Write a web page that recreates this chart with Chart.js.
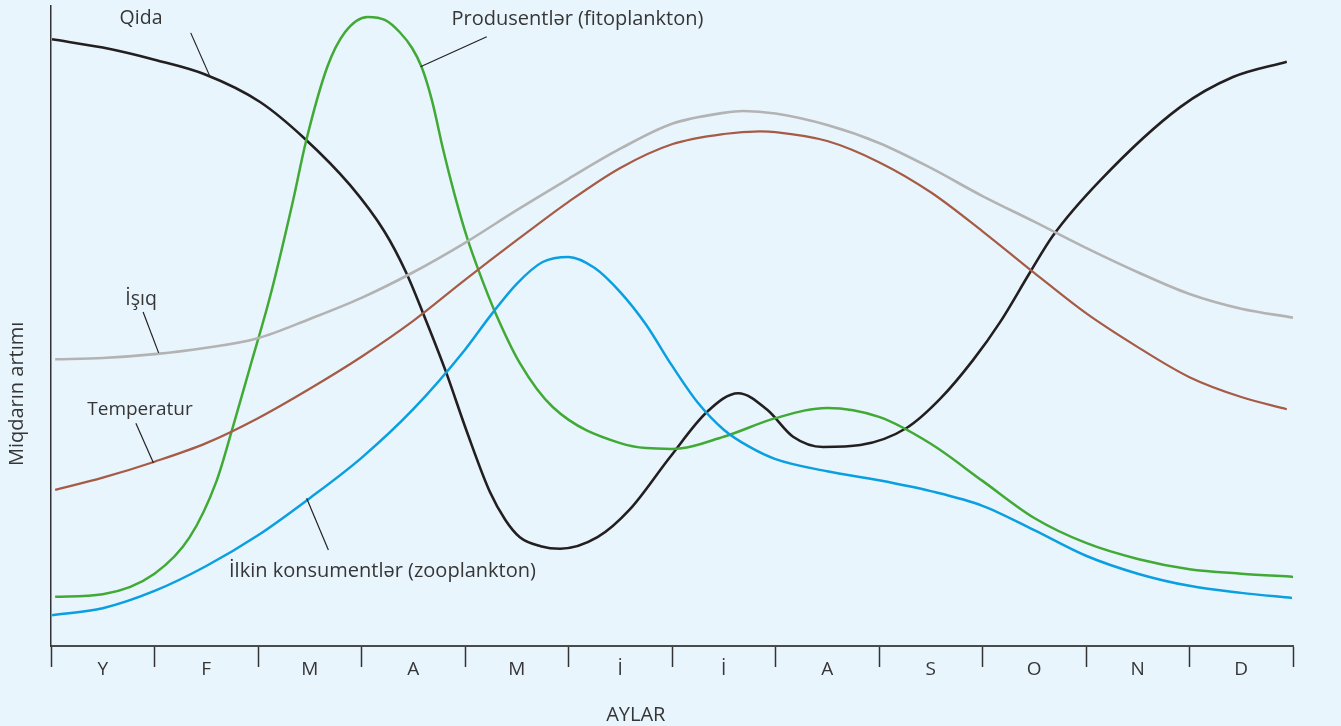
<!DOCTYPE html>
<html>
<head>
<meta charset="utf-8">
<script src="https://cdn.jsdelivr.net/npm/chart.js@4"></script>
<style>
  html, body { margin: 0; padding: 0; background: #e9f5fd; }
  #wrap { width: 1341px; height: 726px; position: relative; }
</style>
</head>
<body>
<div id="wrap"><canvas id="myChart"></canvas></div>
<script>
// months (x = 0..12, each month one unit)
var months = ['Y', 'F', 'M', 'A', 'M', 'İ', 'İ', 'A', 'S', 'O', 'N', 'D'];

// Qida (food) - black
var qida_x = [0.01, 0.50, 1.0, 1.49, 2.02, 2.45, 2.89, 3.22, 3.43, 3.59, 3.81, 4.02, 4.24, 4.39, 4.53, 4.73, 4.92, 5.28, 5.59, 5.98, 6.34, 6.64, 6.92, 7.17, 7.46, 7.82, 8.27, 8.59, 8.91, 9.17, 9.46, 9.68, 10.14, 10.91, 11.42, 11.94];
var qida_y = [94.8, 93.5, 91.6, 89.3, 85.0, 79.3, 72.0, 64.8, 58.4, 52.2, 43.1, 33.4, 24.1, 19.7, 17.0, 15.6, 15.2, 17.0, 21.3, 29.5, 36.6, 39.5, 36.9, 32.7, 31.1, 31.4, 34.1, 38.6, 44.7, 50.6, 58.4, 64.1, 72.8, 84.2, 88.9, 91.3];

// Produsentler (fitoplankton) - green
var prod_x = [0.04, 0.50, 1.0, 1.34, 1.60, 1.75, 1.92, 2.12, 2.34, 2.46, 2.67, 2.84, 3.06, 3.23, 3.37, 3.49, 3.58, 3.68, 3.79, 3.90, 4.02, 4.14, 4.29, 4.53, 4.85, 5.5, 6.0, 6.5, 7.0, 7.5, 8.0, 8.5, 9.0, 9.5, 10.0, 10.5, 11.0, 11.5, 12.0];
var prod_y = [7.7, 8.1, 11.3, 17.0, 25.8, 33.8, 43.4, 54.8, 69.7, 78.6, 90.5, 95.9, 98.3, 97.8, 95.9, 93.4, 90.5, 85.3, 77.5, 70.5, 63.8, 58.3, 52.2, 44.2, 37.3, 31.7, 30.8, 32.7, 35.6, 37.2, 35.8, 31.6, 25.8, 20.0, 16.1, 13.6, 12.0, 11.3, 10.8];

// Ilkin konsumentler (zooplankton) - blue
var zoo_x = [0.01, 0.5, 1.0, 1.5, 2.0, 2.5, 3.0, 3.5, 4.0, 4.25, 4.5, 4.75, 5.0, 5.25, 5.5, 5.75, 6.0, 6.25, 6.5, 6.75, 7.0, 7.5, 8.0, 8.5, 9.0, 9.5, 10.0, 10.5, 11.0, 11.5, 11.99];
var zoo_y = [4.8, 5.9, 8.6, 12.5, 17.3, 23.1, 29.4, 37.0, 46.3, 51.7, 56.6, 60.0, 60.8, 59.1, 55.3, 50.2, 43.8, 38.0, 33.8, 31.1, 29.2, 27.3, 25.9, 24.2, 21.9, 18.1, 14.1, 11.3, 9.4, 8.3, 7.5];

// Isiq (light) - grey
var isiq_x = [0.04, 0.5, 1.0, 1.5, 2.0, 2.5, 3.0, 3.5, 4.0, 4.5, 5.0, 5.5, 6.0, 6.5, 6.69, 7.0, 7.5, 8.0, 8.5, 9.0, 9.5, 10.0, 10.5, 11.0, 11.5, 12.0];
var isiq_y = [44.8, 45.0, 45.6, 46.6, 48.1, 51.1, 54.4, 58.4, 63.0, 68.1, 73.0, 77.7, 81.6, 83.3, 83.6, 83.2, 81.4, 78.6, 74.7, 70.3, 66.3, 62.2, 58.4, 55.0, 52.7, 51.3];

// Temperatur - brown
var temp_x = [0.04, 0.5, 1.0, 1.5, 2.0, 2.5, 3.0, 3.5, 4.0, 4.5, 5.0, 5.5, 6.0, 6.5, 6.85, 7.0, 7.5, 8.0, 8.5, 9.0, 9.5, 10.0, 10.5, 11.0, 11.5, 11.94];
var temp_y = [24.4, 26.3, 28.8, 31.7, 35.6, 40.2, 45.2, 50.8, 57.2, 63.4, 69.4, 74.7, 78.4, 80.0, 80.4, 80.3, 78.9, 75.6, 70.9, 64.8, 58.3, 52.0, 46.7, 42.0, 38.9, 37.0];

// curve labels: text, anchor, leader line start/end (data units)
var label_texts = ['Qida', 'Produsentlər (fitoplankton)', 'İşıq', 'Temperatur', 'İlkin konsumentlər (zooplankton)'];
var label_pos = [[0.87, 98.0], [3.87, 98.0], [0.87, 54.1], [0.86, 36.9], [1.72, 11.7]];
var label_align = ['center', 'left', 'center', 'center', 'left'];
var label_size = [19.5, 20, 19.5, 19, 20];
var leader_from = [[1.35, 95.8], [4.21, 95.2], [0.89, 52.2], [0.82, 34.8], [2.47, 23.1]];
var leader_to = [[1.53, 89.2], [3.57, 90.5], [1.04, 45.8], [0.99, 28.6], [2.68, 15.0]];

function pts(xs, ys) {
	var out = [];
	for (var i = 0; i < xs.length; i++) {
		out.push({x: xs[i], y: ys[i]});
	}
	return out;
}

var FONT = '"Open Sans", "Noto Sans", sans-serif';
var TEXT = '#363636';

var labelsPlugin = {
	id: 'curveLabels',
	afterDatasetsDraw: function (chart) {
		var ctx = chart.ctx;
		var xs = chart.scales.x;
		var ys = chart.scales.y;
		ctx.save();
		ctx.strokeStyle = '#222222';
		ctx.lineWidth = 1.2;
		for (var i = 0; i < label_texts.length; i++) {
			ctx.beginPath();
			ctx.moveTo(xs.getPixelForValue(leader_from[i][0]), ys.getPixelForValue(leader_from[i][1]));
			ctx.lineTo(xs.getPixelForValue(leader_to[i][0]), ys.getPixelForValue(leader_to[i][1]));
			ctx.stroke();
		}
		ctx.fillStyle = TEXT;
		ctx.textBaseline = 'middle';
		for (var j = 0; j < label_texts.length; j++) {
			ctx.font = label_size[j] + 'px ' + FONT;
			ctx.textAlign = label_align[j];
			ctx.fillText(label_texts[j], xs.getPixelForValue(label_pos[j][0]), ys.getPixelForValue(label_pos[j][1]));
		}
		// axis titles
		ctx.font = '20px ' + FONT;
		ctx.textAlign = 'center';
		ctx.fillText('AYLAR', xs.getPixelForValue(5.65), ys.getPixelForValue(-10.8));
		ctx.translate(xs.getPixelForValue(-0.33), ys.getPixelForValue(39.4));
		ctx.rotate(-Math.PI / 2);
		ctx.fillText('Miqdarın artımı', 0, 0);
		ctx.restore();
	}
};

var ctx = document.getElementById('myChart');

function line(label, xs, ys, color, width) {
	return {
		label: label,
		data: pts(xs, ys),
		borderColor: color,
		borderWidth: width,
		pointRadius: 0,
		fill: false,
		cubicInterpolationMode: 'monotone',
		clip: false
	};
}

new Chart(ctx, {
	type: 'line',
	data: {
		datasets: [
			line('İşıq', isiq_x, isiq_y, '#b3b3b3', 2.6),
			line('Temperatur', temp_x, temp_y, '#a65b45', 2.2),
			line('İlkin konsumentlər (zooplankton)', zoo_x, zoo_y, '#0a9fe0', 2.5),
			line('Produsentlər (fitoplankton)', prod_x, prod_y, '#40aa35', 2.5),
			line('Qida', qida_x, qida_y, '#231f20', 2.6)
		]
	},
	options: {
		responsive: true,
		maintainAspectRatio: false,
		animation: false,
		layout: {padding: {top: 6, right: 48, left: 0, bottom: 0}},
		plugins: {
			legend: {display: false},
			tooltip: {enabled: false}
		},
		scales: {
			x: {
				type: 'linear',
				min: 0,
				max: 12,
				afterFit: function (scale) { scale.height = 80; },
				border: {display: true, color: '#4a4a4a', width: 2},
				grid: {
					display: true,
					drawOnChartArea: false,
					drawTicks: true,
					tickLength: 21,
					tickWidth: 1.5,
					tickColor: function (c) {
						return (c.tick && c.tick.value % 1 === 0) ? '#333333' : 'rgba(0,0,0,0)';
					}
				},
				ticks: {
					stepSize: 0.5,
					autoSkip: false,
					maxRotation: 0,
					padding: -9,
					color: TEXT,
					font: {family: FONT, size: 19},
					callback: function (value) {
						if (value % 1 === 0.5) {
							return months[Math.floor(value)];
						}
						return '';
					}
				}
			},
			y: {
				min: 0,
				max: 100,
				afterFit: function (scale) { scale.width = 51; },
				border: {display: true, color: '#333333', width: 1.5},
				grid: {display: false},
				ticks: {display: false}
			}
		}
	},
	plugins: [labelsPlugin]
});
</script>
</body>
</html>
